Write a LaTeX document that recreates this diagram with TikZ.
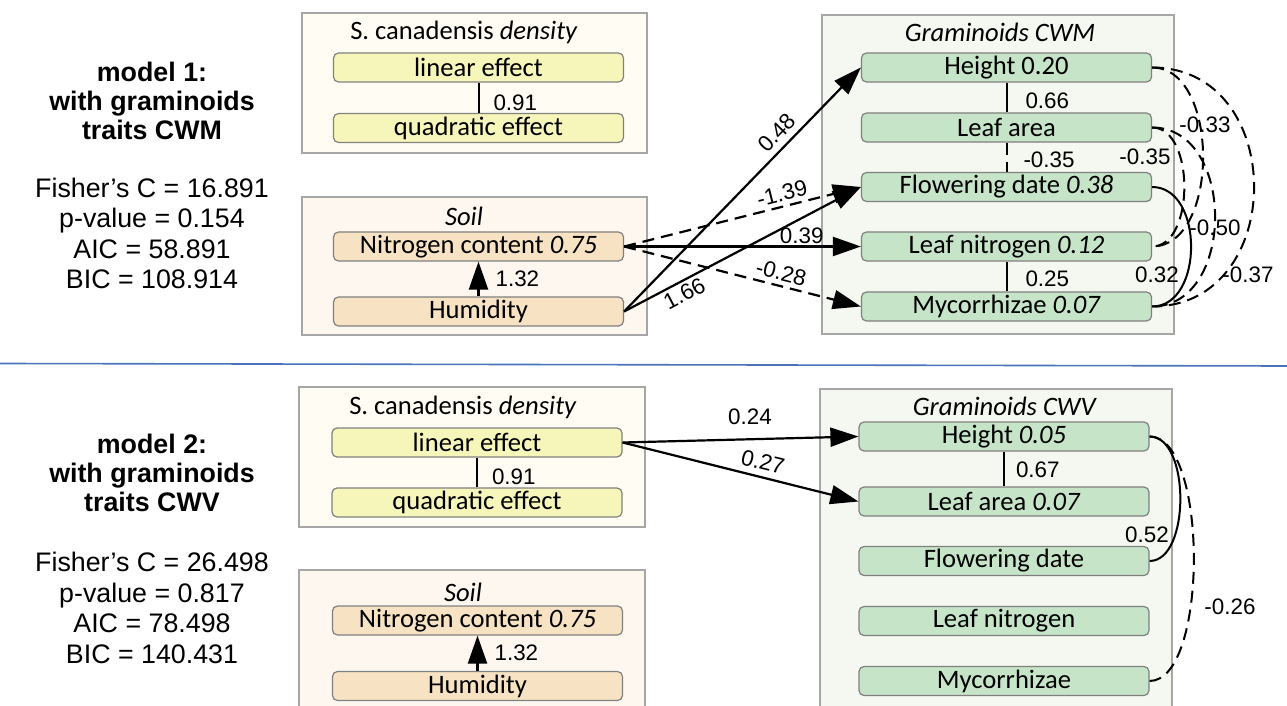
\documentclass[tikz,border=0pt]{standalone}
\usepackage{fontspec}
\setmainfont{Carlito}
\newfontfamily\arialfont{Liberation Sans}
\usetikzlibrary{arrows.meta}

\definecolor{densfill}{HTML}{FFFDF3}
\definecolor{densnode}{HTML}{F6F6BA}
\definecolor{soilfill}{HTML}{FDF7F0}
\definecolor{soilnode}{HTML}{F7E3C3}
\definecolor{gramfill}{HTML}{F4F8F0}
\definecolor{gramnode}{HTML}{C6E4C8}
\definecolor{sepblue}{HTML}{4A73BC}

\tikzset{
  group/.style={draw=black!35, line width=0.75pt},
  trait/.style={draw=black!50, line width=0.6pt, rounded corners=2.5pt, minimum width=145pt,
    minimum height=14.5pt, inner sep=0pt, font=\fontsize{13.3}{14}\selectfont},
  dens/.style={trait, fill=densnode},
  soil/.style={trait, fill=soilnode},
  gram/.style={trait, fill=gramnode},
  gtitle/.style={inner sep=0pt, font=\fontsize{13.3}{14}\selectfont},
  mtitle/.style={align=center, font=\arialfont\bfseries\fontsize{13.4}{14.5}\selectfont},
  mstat/.style={align=center, font=\arialfont\fontsize{13.4}{15.2}\selectfont},
  elab/.style={inner sep=1pt, font=\arialfont\fontsize{11.2}{12}\selectfont},
  eff/.style={line width=1.1pt, -{Triangle[length=14pt,width=9.5pt]}},
  cor/.style={line width=1pt},
  dsh/.style={dash pattern=on 6pt off 3.5pt},
}

\begin{document}
\begin{tikzpicture}[x=0.5pt, y=-0.5pt]
    \useasboundingbox (0,0) rectangle (1287,706);
    \clip (0,0) rectangle (1287,706);

    % Groups
    \draw[group, fill=densfill] (302,13) rectangle (647,153);
    \draw[group, fill=soilfill] (302,197) rectangle (647,335);
    \draw[group, fill=gramfill] (822,15) rectangle (1174,334);
    \draw[group, fill=densfill] (299,387) rectangle (645,527);
    \draw[group, fill=soilfill] (299,570) rectangle (645,720);
    \draw[group, fill=gramfill] (820,389) rectangle (1172,720);

    % Separator
    \draw[sepblue, line width=0.8pt] (0,363.5) -- (1287,366);

    % Model 1: nodes
    \node[mtitle] (m1) at (152,101) {model 1:\\with graminoids\\traits CWM};
    \node[mstat] (s1) at (152,233.5) {Fisher’s C = 16.891\\p-value = 0.154\\AIC = 58.891\\BIC = 108.914};

    \node[gtitle] (td1) at (464,32) {S. canadensis \textit{density}};
    \node[dens] (lin1) at (478.5,67.5) {linear effect};
    \node[dens] (quad1) at (478.5,128) {quadratic effect};
    \node[gtitle] (ts1) at (464,216) {\textit{Soil}};
    \node[soil] (nc1) at (478.5,246.5) {Nitrogen content \textit{0.75}};
    \node[soil] (hum1) at (478.5,311.5) {Humidity};

    \node[gtitle] (tg1) at (1000,32) {\textit{Graminoids CWM}};
    \node[gram] (h1) at (1006.5,67.5) {Height 0.20};
    \node[gram] (la1) at (1006.5,127.5) {Leaf area};
    \node[gram] (fd1) at (1006.5,187) {Flowering date \textit{0.38}};
    \node[gram] (ln1) at (1006.5,246.5) {Leaf nitrogen \textit{0.12}};
    \node[gram] (my1) at (1006.5,306.5) {Mycorrhizae \textit{0.07}};

    % Model 1: paths
    \draw[cor] (lin1) -- node[elab, right=6pt, pos=0.65] {0.91} (quad1);
    \draw[eff] (hum1) -- node[elab, right=7pt] {1.32} (nc1);

    \draw[eff] (hum1.east) -- node[elab, sloped, above=2pt, pos=0.69] {0.48} (h1.west);
    \draw[eff, dsh] (nc1.east) -- node[elab, sloped, above=1pt, pos=0.68] {-1.39} (fd1.west);
    \draw[eff] (hum1.east) -- node[elab, sloped, below=0.6pt, pos=0.23] {1.66} (fd1.west);
    \draw[eff] (nc1.east) -- node[elab, above, pos=0.75] {0.39} (ln1.west);
    \draw[eff, dsh] (nc1.east) -- node[elab, sloped, above=1pt, pos=0.65] {-0.28} (my1.west);

    \draw[cor] (h1) -- node[elab, right=8pt, pos=0.6] {0.66} (la1);
    \draw[cor, dsh] (la1) -- node[elab, right=7pt, pos=0.58] {-0.35} (fd1);
    \draw[cor] (ln1) -- node[elab, right=8pt, pos=0.58] {0.25} (my1);

    \draw[cor, dsh] (h1.east) .. controls +(68,0) and +(68,0) .. (ln1.east);
    \draw[cor, dsh] (h1.east) .. controls +(136,0) and +(136,0) .. (my1.east);
    \draw[cor, dsh] (la1.east) .. controls +(43,0) and +(43,0) .. (ln1.east);
    \draw[cor, dsh] (la1.east) .. controls +(84,0) and +(84,0) .. (my1.east);
    \draw[cor] (fd1.east) .. controls +(52,0) and +(52,0) .. (my1.east);
    \node[elab] (c033) at (1205,125) {-0.33};
    \node[elab] (c035) at (1145,157) {-0.35};
    \node[elab] (c050) at (1215,228) {-0.50};
    \node[elab] (c032) at (1157,275) {0.32};
    \node[elab] (c037) at (1248,275) {-0.37};

    % Model 2: nodes
    \node[mtitle] (m2) at (152,472.5) {model 2:\\with graminoids\\traits CWV};
    \node[mstat] (s2) at (152,608) {Fisher’s C = 26.498\\p-value = 0.817\\AIC = 78.498\\BIC = 140.431};

    \node[gtitle] (td2) at (463,407) {S. canadensis \textit{density}};
    \node[dens] (lin2) at (477,442.5) {linear effect};
    \node[dens] (quad2) at (477,502.5) {quadratic effect};
    \node[gtitle] (ts2) at (463,592) {\textit{Soil}};
    \node[soil] (nc2) at (477.5,620.5) {Nitrogen content \textit{0.75}};
    \node[soil] (hum2) at (477.5,686) {Humidity};

    \node[gtitle] (tg2) at (1005,406) {\textit{Graminoids CWV}};
    \node[gram] (h2) at (1004,436.5) {Height \textit{0.05}};
    \node[gram] (la2) at (1004,501.5) {Leaf area \textit{0.07}};
    \node[gram] (fd2) at (1004,561) {Flowering date};
    \node[gram] (ln2) at (1004,621) {Leaf nitrogen};
    \node[gram] (my2) at (1004,681) {Mycorrhizae};

    % Model 2: paths
    \draw[cor] (lin2) -- node[elab, right=6pt, pos=0.65] {0.91} (quad2);
    \draw[eff] (hum2) -- node[elab, right=7pt] {1.32} (nc2);

    \draw[eff] (lin2.east) -- node[elab, above=5.5pt, pos=0.54] {0.24} (h2.west);
    \draw[eff] (lin2.east) -- node[elab, sloped, above=2pt, pos=0.58] {0.27} (la2.west);

    \draw[cor] (h2) -- node[elab, right=4.5pt, pos=0.53] {0.67} (la2);
    \draw[cor] (h2.east) .. controls +(41,0) and +(41,0) .. (fd2.east);
    \draw[cor, dsh] (h2.east) .. controls +(59,0) and +(59,0) .. (my2.east);
    \node[elab] (c052) at (1147,535) {0.52};
    \node[elab] (c026) at (1230,607) {-0.26};
\end{tikzpicture}
\end{document}
